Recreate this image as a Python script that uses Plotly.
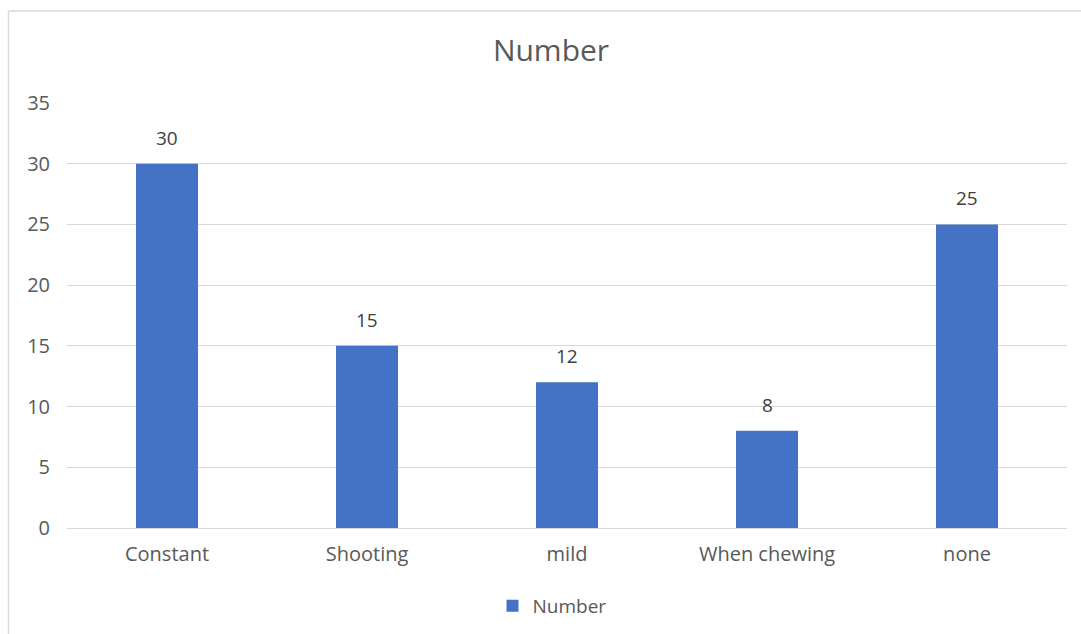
import plotly.graph_objects as go

categories = ["Constant", "Shooting", "mild", "When chewing", "none"]
values = [30, 15, 12, 8, 25]
y_ticks = [0, 5, 10, 15, 20, 25, 30, 35]
series_name = "Number"

BAR = "#4472C4"
TXT = "#595959"
FONT = "'Open Sans', sans-serif"

W, H = 1081, 634
L, R, T, B = 67, 14, 103, 106
pw, ph = W - L - R, H - T - B

def px_x(x):
    return (x - L) / pw

def px_y(y):
    return (H - B - y) / ph

fig = go.Figure()
fig.add_trace(go.Bar(
    x=categories, y=values, name=series_name,
    marker=dict(color=BAR, line=dict(width=0)),
    width=0.31, showlegend=True,
))

for c, v in zip(categories, values):
    fig.add_annotation(x=c, y=v, text=str(v), showarrow=False,
                       yanchor="middle", yshift=26,
                       font=dict(family=FONT, size=19, color="#404040"))

fig.update_layout(
    width=W, height=H,
    margin=dict(l=L, r=R, t=T, b=B, autoexpand=False),
    paper_bgcolor="white", plot_bgcolor="white",
    font=dict(family=FONT, color=TXT, size=19),
    title=dict(text="Number", x=551 / W, xref="container", xanchor="center",
               y=1 - 50 / H, yanchor="middle",
               font=dict(family=FONT, size=30, color=TXT)),
    bargap=0.69,
    legend=dict(orientation="h", x=px_x(552), xanchor="center", xref="paper",
                y=px_y(606), yanchor="middle",
                font=dict(family=FONT, size=19, color=TXT),
                itemwidth=30),
    xaxis=dict(showgrid=False, showline=True, linecolor="#d9d9d9", linewidth=1,
               ticks="", tickfont=dict(family=FONT, size=20, color=TXT),
               ticklabelstandoff=8, fixedrange=True, automargin=False),
    yaxis=dict(range=[0, 35], tickvals=y_ticks, showgrid=True,
               gridcolor="#d9d9d9", gridwidth=1, zeroline=False,
               showline=False, ticks="",
               tickfont=dict(family=FONT, size=20, color=TXT),
               ticklabelstandoff=16, fixedrange=True, automargin=False),
    shapes=[
        dict(type="line", xref="paper", yref="paper",
             x0=px_x(8.5), x1=px_x(8.5), y0=px_y(11), y1=px_y(640),
             line=dict(color="#d9d9d9", width=1.5)),
        dict(type="line", xref="paper", yref="paper",
             x0=px_x(8.5), x1=px_x(1085), y0=px_y(11), y1=px_y(11),
             line=dict(color="#d9d9d9", width=1.5)),
    ],
)

fig.write_html("out.html")
